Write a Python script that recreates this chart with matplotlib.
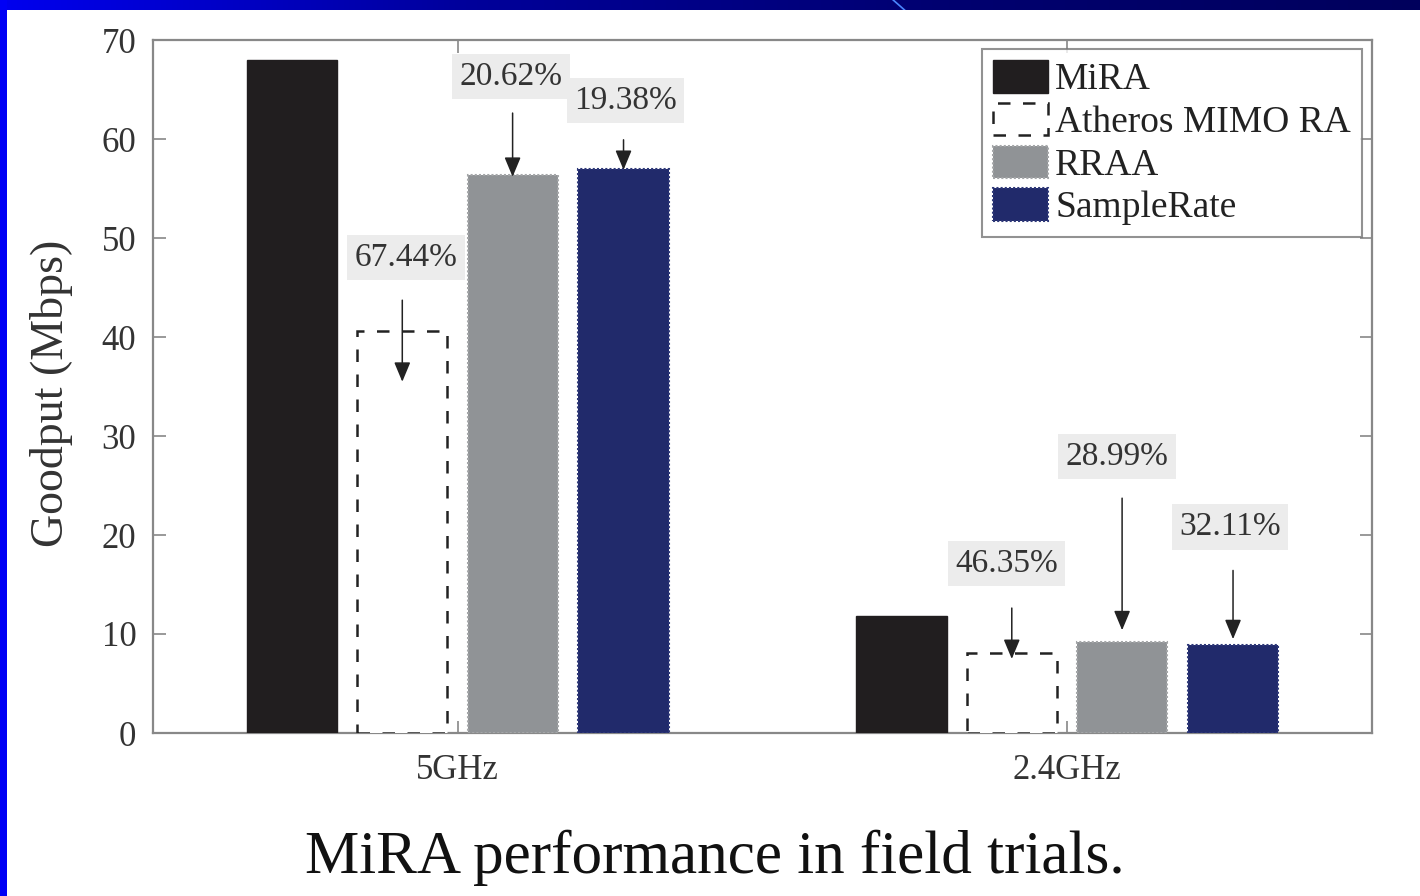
import numpy as np
import matplotlib
matplotlib.use("Agg")
import matplotlib.pyplot as plt
from matplotlib.patches import Rectangle

plt.rcParams['font.family'] = ['Liberation Serif', 'DejaVu Serif']

# goodput per band for each rate adaptation scheme (Mbps)
bands = ["5GHz", "2.4GHz"]
schemes = ["MiRA", "Atheros MIMO RA", "RRAA", "SampleRate"]
mira = [68.0, 11.8]
atheros = [40.6, 8.1]
rraa = [56.4, 9.2]
samplerate = [57.0, 8.9]

# MiRA gain over each scheme, shown as callouts
gain_labels = ["67.44%", "20.62%", "19.38%", "46.35%", "28.99%", "32.11%"]
# (x, y) of each callout box, arrow start and arrow tip in data units
label_xy = [(-0.085, 48.0), (0.087, 66.3), (0.275, 63.9),
            (0.900, 17.1), (1.082, 27.9), (1.267, 20.8)]
arrow_from = [(-0.091, 44.0), (0.090, 62.9), (0.272, 60.2),
              (0.909, 12.9), (1.090, 24.0), (1.272, 16.7)]
arrow_to = [(-0.091, 35.2), (0.090, 55.9), (0.272, 56.6),
            (0.909, 7.2), (1.090, 10.1), (1.272, 9.2)]

fig = plt.figure(figsize=(14.2, 8.96), dpi=100)
fig.patch.set_facecolor("white")

# slide frame: gradient strip on top, blue strip on the left
bar_ax = fig.add_axes([0, 1 - 10 / 896, 1, 10 / 896])
grad = np.linspace(0, 1, 256)[None, :]
cmap = matplotlib.colors.LinearSegmentedColormap.from_list(
    "slide", ["#0000ee", "#00009a", "#000070", "#00005c"])
bar_ax.imshow(grad, aspect="auto", cmap=cmap, extent=[0, 1, 0, 1])
bar_ax.plot([0.629, 0.637], [1, 0], color="#4a86ff", lw=1.2)
bar_ax.set_xlim(0, 1)
bar_ax.set_ylim(0, 1)
bar_ax.axis("off")
fig.patches.append(Rectangle((0, 0), 7 / 1420, 1, transform=fig.transFigure,
                             facecolor="#0000f5", edgecolor="none", zorder=5))

ax = fig.add_axes([153 / 1420, 1 - 733 / 896, (1372 - 153) / 1420, (733 - 40) / 896])

x = np.arange(len(bands))
w = 0.148
offsets = [-0.272, -0.091, 0.090, 0.272]
series = [mira, atheros, rraa, samplerate]
faces = ["#211e1f", "white", "#909396", "#212a6b"]
edges = ["#211e1f", "#222222", "#a4a6a8", "#2e3878"]
styles = ["solid", (0, (5, 5)), (0, (1, 1)), (0, (1, 1))]
widths = [1.0, 1.8, 1.5, 1.5]

for vals, off, fc, ec, ls, lw, name in zip(series, offsets, faces, edges,
                                           styles, widths, schemes):
    ax.bar(x + off, vals, width=w, color=fc, edgecolor=ec, linestyle=ls,
           linewidth=lw, label=name, zorder=3)

for txt, (tx, ty), p0, p1 in zip(gain_labels, label_xy, arrow_from, arrow_to):
    ax.text(tx, ty, txt, ha="center", va="center", fontsize=24, color="#333333",
            bbox=dict(boxstyle="square,pad=0.22", facecolor="#ececec",
                      edgecolor="none"), zorder=4)
    ax.annotate("", xy=p1, xytext=p0,
                arrowprops=dict(arrowstyle="-|>,head_length=0.6,head_width=0.25",
                                color="#222222", lw=1.1, mutation_scale=20),
                zorder=5)

ax.set_xlim(-0.5, 1.5)
ax.set_ylim(0, 70)
ax.set_xticks(x)
ax.set_xticklabels(bands)
ax.set_yticks(range(0, 71, 10))
ax.tick_params(direction="in", length=9, width=1.2, color="#888888",
               top=True, right=True, labelsize=25, labelcolor="#333333")
ax.tick_params(axis="y", pad=12)
ax.tick_params(axis="x", pad=15)
for s in ax.spines.values():
    s.set_color("#888888")
    s.set_linewidth(1.6)

ax.set_ylabel("Goodput (Mbps)", fontsize=33, color="#333333")
ax.yaxis.set_label_coords(-0.066, 0.49)

leg = ax.legend(loc="upper right", bbox_to_anchor=(1362 / 1420, 1 - 49 / 896),
                bbox_transform=fig.transFigure, borderaxespad=0, fontsize=27,
                handlelength=1.45, handleheight=0.95, handletextpad=0.2,
                labelspacing=0.15, borderpad=0.3, fancybox=False)
leg.get_frame().set_edgecolor("#777777")
leg.get_frame().set_linewidth(1.5)
for t in leg.get_texts():
    t.set_color("#222222")

fig.text(715 / 1420, 1 - 858 / 896, "MiRA performance in field trials.",
         ha="center", va="center", fontsize=44, color="#111111")

fig.savefig("out.png", dpi=100, facecolor="white")
